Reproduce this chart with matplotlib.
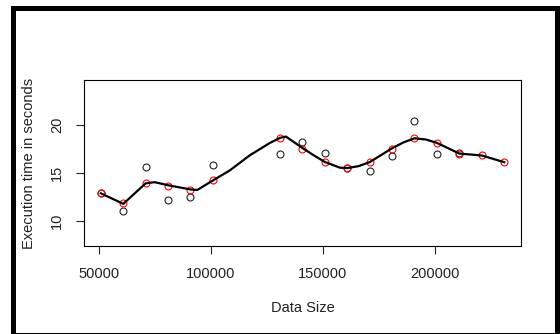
import matplotlib
matplotlib.use("Agg")
import matplotlib.pyplot as plt
from matplotlib.patches import Rectangle

plt.rcParams['font.family'] = ['Liberation Sans', 'DejaVu Sans']

# measured execution times (black circles)
obs_size = [51000, 61000, 71000, 81000, 91000, 101000, 131000, 141000,
            151000, 161000, 171000, 181000, 191000, 201000, 211000]
obs_time = [12.9, 11.0, 15.65, 12.18, 12.5, 15.8, 17.0, 18.2,
            17.05, 15.5, 15.2, 16.8, 20.45, 17.0, 17.1]

# fitted values (red circles)
fit_size = [51000, 61000, 71000, 81000, 91000, 101000, 131000, 141000, 151000,
            161000, 171000, 181000, 191000, 201000, 211000, 221000, 231000]
fit_time = [12.85, 11.8, 13.9, 13.65, 13.2, 14.2, 18.65, 17.55, 16.1,
            15.5, 16.1, 17.55, 18.63, 18.14, 17.02, 16.82, 16.12]

# smooth curve
curve_size = [51000, 61000, 71000, 75000, 81000, 91000, 94000, 101000, 108600,
              117500, 126500, 131000, 133600, 141000, 146000, 151000, 157700,
              161000, 166000, 171000, 181000, 186000, 191000, 196000, 201000,
              211000, 216000, 221000, 231000]
curve_time = [12.85, 11.75, 13.9, 14.02, 13.7, 13.26, 13.2, 14.2, 15.26,
              16.84, 18.14, 18.67, 18.8, 17.6, 16.84, 16.14, 15.54,
              15.5, 15.7, 16.12, 17.58, 18.18, 18.62, 18.5, 18.14,
              17.02, 16.92, 16.82, 16.12]

xticks = [50000, 100000, 150000, 200000]
yticks = [10, 15, 20]

fig = plt.figure(figsize=(5.6, 3.34), dpi=100)
ax = fig.add_axes([0.1505, 0.2626, 0.7793, 0.4970])

ax.plot(obs_size, obs_time, linestyle='none', marker='o', markersize=5,
        markerfacecolor='none', markeredgecolor='#222222', markeredgewidth=0.8)
ax.plot(fit_size, fit_time, linestyle='none', marker='o', markersize=5,
        markerfacecolor='none', markeredgecolor='red', markeredgewidth=0.8)
ax.plot(curve_size, curve_time, color='black', linewidth=1.6)

ax.set_xlim(43600, 238400)
ax.set_ylim(7.3, 24.7)
ax.set_xticks(xticks)
ax.set_xticklabels([str(t) for t in xticks])
ax.set_yticks(yticks)
ax.set_yticklabels([str(t) for t in yticks], rotation=90, va='center')
ax.tick_params(direction='out', length=5.6, width=0.8, labelsize=10.5,
               colors='#222222', pad=9)
for s in ax.spines.values():
    s.set_linewidth(0.8)

ax.set_xlabel("Data Size", fontsize=10.5, color='#222222', labelpad=15)
ax.set_ylabel("Execution time in seconds", fontsize=10.5, color='#222222',
              labelpad=10)

# thick outer frame
W, H = 560.0, 334.0
for (x0, y0, w, h) in [(11, 6, 5, 328), (11, 6, 549, 5), (555, 6, 5, 328),
                       (11, 333, 549, 1)]:
    fig.add_artist(Rectangle((x0 / W, 1 - (y0 + h) / H), w / W, h / H,
                             transform=fig.transFigure, color='black', lw=0))

fig.savefig("out.png", dpi=100)
